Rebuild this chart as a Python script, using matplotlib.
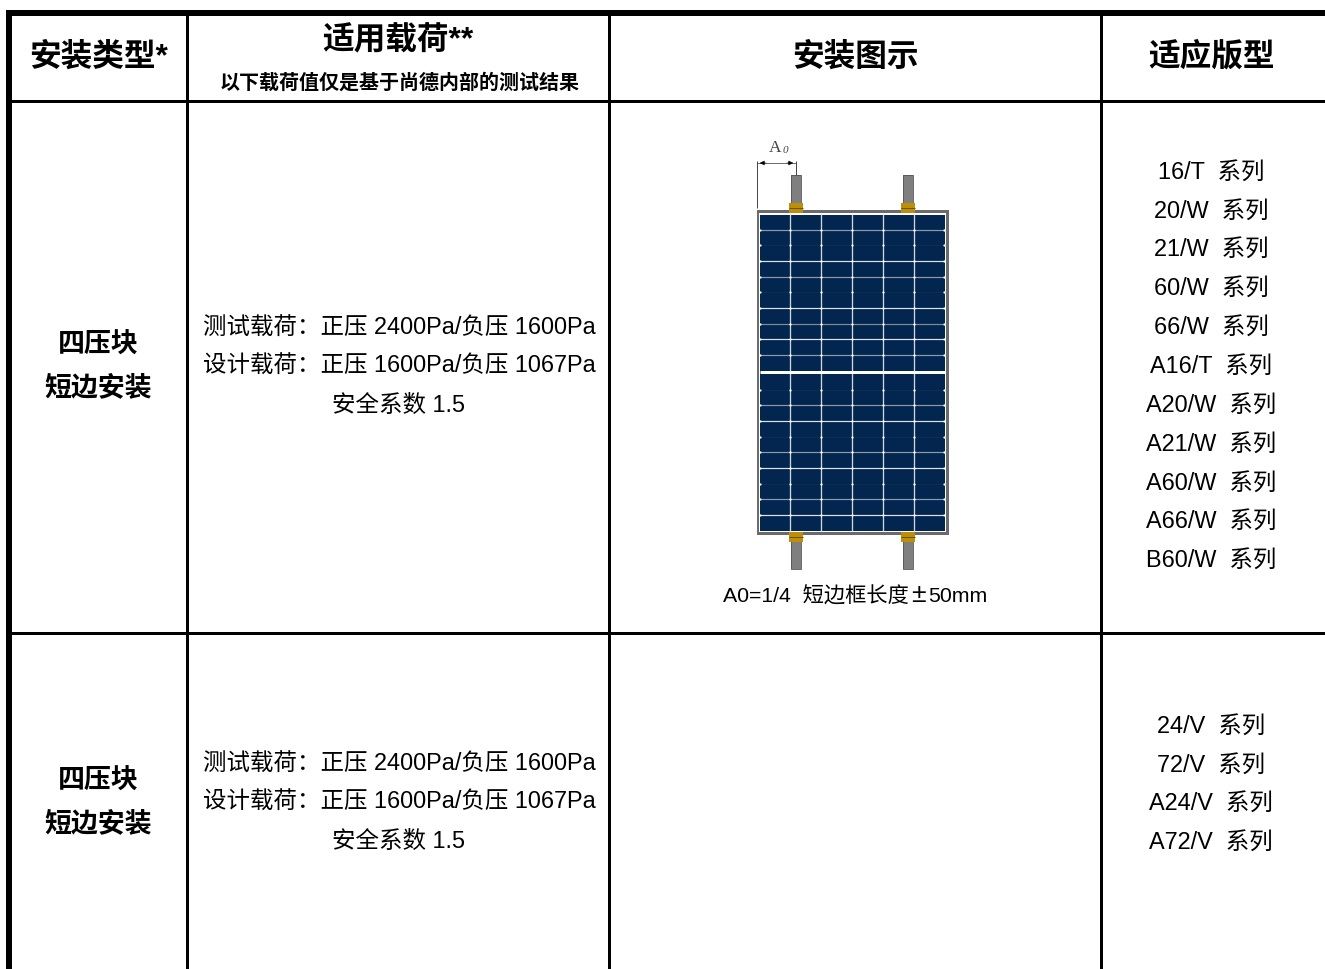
import matplotlib
matplotlib.use('Agg')
import matplotlib.pyplot as plt
from matplotlib.patches import Rectangle

headers = ['安装类型*', '适用载荷**', '安装图示', '适应版型']
header_note = '以下载荷值仅是基于尚德内部的测试结果'
install_type = ['四压块', '短边安装']
load_lines = ['测试载荷：正压 2400Pa/负压 1600Pa', '设计载荷：正压 1600Pa/负压 1067Pa', '安全系数 1.5']
models_row1 = ['16/T  系列', '20/W  系列', '21/W  系列', '60/W  系列', '66/W  系列', 'A16/T  系列',
               'A20/W  系列', 'A21/W  系列', 'A60/W  系列', 'A66/W  系列', 'B60/W  系列']
models_row2 = ['24/V  系列', '72/V  系列', 'A24/V  系列', 'A72/V  系列']
caption_parts = ['A0=1/4  短边框长度', '±', '50mm']

# Layout in image pixels
W, H = 1325, 969
col_lines = [187.3, 609.3, 1101.3]
row_lines = [101.3, 632.5]
cell_cols = [790, 821.3, 852.3, 883, 914]
cell_rows = [230, 245.3, 261.3, 276.7, 292.3, 308.3, 323.7, 339.3, 355.3, 390, 405, 420.7,
             436.7, 452, 467.7, 484, 499.3, 515]
cell_row_colors = ['#8d99a8', '#0f2c50', '#dfe3e8', '#8d99a8', '#0f2c50', '#dfe3e8', '#7d8a9a', '#dfe3e8', '#8d99a8',
                   '#0f2c50', '#8d99a8', '#dfe3e8', '#0f2c50', '#8d99a8', '#dfe3e8', '#0f2c50', '#8d99a8', '#dfe3e8']
post_x = [791, 903]

FONT = ['Liberation Sans', 'Noto Sans CJK SC', 'DejaVu Sans']
plt.rcParams['font.family'] = FONT
fig = plt.figure(figsize=(W / 100, H / 100), dpi=100)
ax = fig.add_axes([0, 0, 1, 1])
ax.set_xlim(0, W)
ax.set_ylim(H, 0)
ax.axis('off')


def rect(x0, y0, x1, y1, color, z=2, **kw):
    ax.add_patch(Rectangle((x0, y0), x1 - x0, y1 - y0, facecolor=color, edgecolor='none', zorder=z, **kw))


def hline(y, x0, x1, lw, color='black', z=3):
    ax.plot([x0, x1], [y, y], color=color, lw=lw * 0.72, solid_capstyle='butt', zorder=z)


def vline(x, y0, y1, lw, color='black', z=3):
    ax.plot([x, x], [y0, y1], color=color, lw=lw * 0.72, solid_capstyle='butt', zorder=z)


# Grid
rect(6, 10, W, 16, 'black', 5)
rect(6, 10, 12, H, 'black', 5)
for x in col_lines:
    vline(x, 10, H, 3)
for y in row_lines:
    hline(y, 6, W, 3)

# Header
ax.text(98.5, 57, headers[0], ha='center', va='center', fontsize=22.8, fontweight='bold')
ax.text(398, 41, headers[1], ha='center', va='center', fontsize=22.8, fontweight='bold')
ax.text(399.5, 83, header_note, ha='center', va='center', fontsize=14.4, fontweight='bold')
ax.text(855, 57, headers[2], ha='center', va='center', fontsize=22.8, fontweight='bold')
ax.text(1212, 57, headers[3], ha='center', va='center', fontsize=22.8, fontweight='bold')

# Rows
for y_top, y_load, models, y_model in [(346, 328, models_row1, 172), (782, 764, models_row2, 726)]:
    for i, t in enumerate(install_type):
        ax.text(98, y_top + i * 42.5, t, ha='center', va='center', fontsize=19.4, fontweight='bold')
    for i, t in enumerate(load_lines):
        ax.text(399, y_load + i * 38.7, t, ha='center', va='center', fontsize=16.9)
    for i, t in enumerate(models):
        ax.text(1211, y_model + i * 38.85, t, ha='center', va='center', fontsize=16.9)

# Panel drawing
for x in post_x:
    for y0, y1 in [(175, 204), (541, 569)]:
        rect(x, y0, x + 10, y1, '#7f7f7f', 3)
        ax.add_patch(Rectangle((x, y0), 10, y1 - y0, fill=False, edgecolor='#555555', lw=0.6, zorder=3))
rect(756.5, 209.5, 948.5, 534.5, '#6b6b6b', 3)
rect(759, 213, 945.5, 531.5, 'white', 3.2)
rect(760, 214.5, 945, 531, '#02264f', 3.4)
for y, c in zip(cell_rows, cell_row_colors):
    hline(y, 760, 945, 1.2, c, 4)
hline(372, 760, 945, 3, 'white', 4.2)
for x in cell_cols:
    vline(x, 214, 531, 1.3, '#d0d6dd', 4)
for y in cell_rows:
    ax.plot(cell_cols + [760, 944], [y] * 7, ls='none', marker='o', ms=1.6, mfc='white', mec='none', zorder=4.5)
for x in post_x:
    for y0 in [202.5, 532]:
        rect(x - 2, y0, x + 12, y0 + 10, '#bd8f08', 6)
        hline(y0 + 5, x - 2, x + 12, 1, '#6e5206', 7)

# Dimension mark
vline(757, 161, 208, 0.9, '#333333')
vline(796, 161, 175, 0.9, '#333333')
hline(163, 757, 796, 0.7, '#333333')
ax.annotate('', xy=(757, 163), xytext=(769, 163),
            arrowprops=dict(arrowstyle='-|>', color='black', lw=0.4, mutation_scale=7))
ax.annotate('', xy=(796, 163), xytext=(784, 163),
            arrowprops=dict(arrowstyle='-|>', color='black', lw=0.4, mutation_scale=7))
ax.text(775, 148, 'A', family='Liberation Serif', ha='center', va='center', fontsize=12.5, color='#444444')
ax.text(785, 150, '0', family='Liberation Serif', style='italic', ha='center', va='center', fontsize=8, color='#444444')

# Caption
ax.text(723, 596, caption_parts[0], ha='left', va='center', fontsize=15.3)
ax.text(918, 595, caption_parts[1], ha='center', va='center', fontsize=19)
ax.text(928, 596, caption_parts[2], ha='left', va='center', fontsize=15.3)

fig.savefig('out.png', dpi=100, facecolor='white')
